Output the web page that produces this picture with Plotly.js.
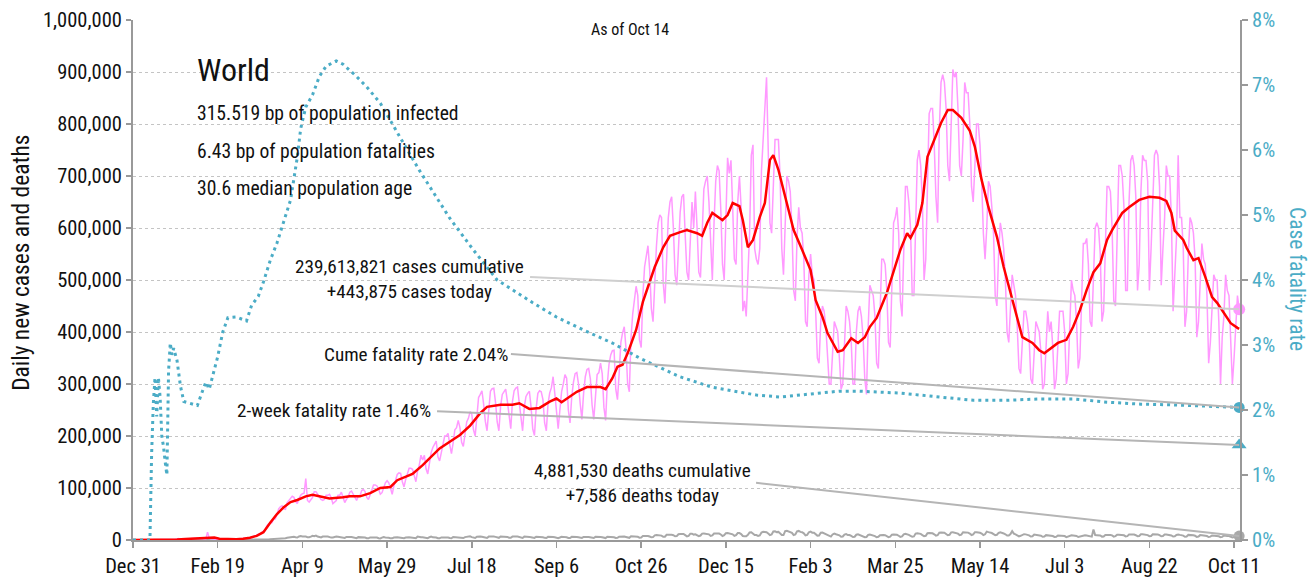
<!DOCTYPE html>
<html><head><meta charset="utf-8">
<script src="https://cdn.plot.ly/plotly-3.0.1.min.js"></script>
<style>html,body{margin:0;padding:0;background:#fff}</style>
</head><body><div id="chart" style="width:1314px;height:579px"></div>
<script>
// ---------------- DATA ----------------
const startDate = '2019-12-31';            // day 0
const xTickDates = ['2019-12-31','2020-02-19','2020-04-09','2020-05-29','2020-07-18','2020-09-06','2020-10-26','2020-12-15','2021-02-03','2021-03-25','2021-05-14','2021-07-03','2021-08-22','2021-10-11'];
const xTickLabels = ['Dec 31','Feb 19','Apr 9','May 29','Jul 18','Sep 6','Oct 26','Dec 15','Feb 3','Mar 25','May 14','Jul 3','Aug 22','Oct 11'];

// daily new cases, thousands, one value per day from startDate
const dailyCasesK = [
0,0,0,0,0,0,0, 0,0,0,0,0,0,0, 0,0,0,0,0.1,0.1,0.1, 0.2,0.3,0.6,0.8,1.3,2.0,2.7,
1.5,1.7,2.0,2.1,2.6,2.8,3.2, 3.9,3.7,3.2,3.4,2.7,3.0,2.5, 2.0,1.8,15.1,4.0,2.6,2.0,2.1, 1.9,0.6,0.6,1.0,1.0,1.1,0.6,
0.9,0.8,1.1,1.4,1.8,1.8,2.0, 2.4,2.5,2.7,3.2,4.0,3.9,4.0, 4.6,7.0,7.5,10.0,11.0,11.5,14.0, 15.5,19.8,27.0,31.0,32.0,33.5,40.0,
40.5,49.0,60.0,64.0,66.0,60.0,59.0, 72,77,80,84,82,74,70, 80,86,89,90,118,76,73, 78,82,93,93,88,82,78,
76,78,86,86,88,81,70, 74,76,86,86,92,81,72, 78,83,92,94,88,81,76, 84,85,95,97,93,82,78,
89,95,106,106,104,98,88, 91,101,110,114,110,100,88, 104,117,126,129,128,112,102, 117,130,138,138,136,124,112,
133,144,163,154,163,137,127, 151,168,178,183,190,160,152, 168,184,200,200,205,183,166, 187,212,216,230,216,188,180,
205,227,234,247,242,212,200, 238,274,280,287,261,228,210, 253,286,291,292,265,227,210, 257,280,284,290,267,236,214,
266,287,292,294,264,230,210, 256,276,282,286,255,213,201, 253,282,287,285,270,225,210, 262,283,293,314,282,245,214,
250,285,300,318,311,250,225, 275,303,320,322,300,262,232, 282,314,328,330,310,260,232, 270,318,322,340,320,255,230,
300,338,356,364,365,290,270, 320,380,398,410,370,300,285, 389,435,460,488,470,385,370, 470,525,545,566,520,445,420,
500,565,610,625,620,495,455, 545,620,650,660,600,510,490, 575,630,660,665,585,515,500, 590,650,600,670,600,515,505,
580,675,690,700,650,555,500, 610,690,720,710,635,530,500, 640,735,705,730,640,540,530, 650,700,640,440,460,430,510,
590,740,760,560,540,530,560, 710,780,820,890,750,610,590, 700,770,770,770,700,560,510, 620,700,690,670,600,480,460,
580,640,600,590,540,420,410, 510,550,510,500,440,350,340, 420,450,440,410,360,300,300, 370,420,410,400,350,290,300,
390,450,440,420,380,300,300, 400,440,450,430,390,310,280, 410,490,480,470,430,340,330, 440,540,540,530,480,380,370,
490,610,620,640,590,460,430, 560,680,680,650,600,470,470, 580,730,750,720,650,500,540, 690,820,830,830,760,660,610,
790,880,895,880,830,720,690, 800,905,890,900,830,720,700, 770,880,860,860,800,680,650, 720,800,800,760,690,590,540,
600,690,680,640,590,470,450, 550,610,590,560,500,400,380, 460,510,490,470,410,330,320, 390,440,440,420,390,310,300,
370,420,410,400,360,290,300, 370,440,400,420,370,290,310, 380,440,440,440,400,300,320, 420,500,480,470,420,330,350,
470,570,570,580,530,420,410, 500,600,610,600,550,420,440, 560,680,680,670,600,460,450, 620,720,720,700,640,480,480,
650,730,740,720,660,480,530, 670,740,730,730,690,480,560, 660,740,750,740,680,490,560, 620,720,700,700,620,440,500,
580,740,620,620,560,410,440, 550,620,610,590,540,390,420, 500,570,540,530,470,340,380, 460,510,500,500,420,300,390,
430,510,480,470,400,300,350, 410,470,443.875
];

// 7-day average of new cases (thousands), read at these day offsets
const avgCasesDays = [0,10,18,22,26,31,36,41,44,48,51,56,61,65,69,73,77,81,85,89,93,97,102,106,110,116,124,128,134,140,146,152,156,161,165,171,177,181,187,193,199,205,209,217,224,228,234,240,246,250,253,258,262,268,276,279,283,286,289,292,297,301,305,308,313,317,323,327,333,336,339,342,348,351,354,358,360,363,366,370,373,376,378,381,384,390,395,400,403,407,410,416,419,424,428,432,435,439,445,450,453,457,459,463,466,469,473,477,481,484,489,494,497,501,505,510,514,519,525,531,535,538,542,546,551,555,559,563,567,571,575,578,584,588,594,600,606,610,613,615,620,622,626,629,633,637,640,644,648,652,653];
const avgCasesK = [0,0,0.1,0.3,1.0,1.8,2.9,2.8,4.8,4.9,2.4,1.3,1.6,2.6,4.5,8,15,33,50,63,73,77,84,87,84,80,82,84,84,90,100,102,115,122,127,144,163,176,189,202,220,244,256,260,260,263,252,254,266,272,265,277,285,294,294,290,311,333,337,359,404,458,494,525,563,585,592,596,590,585,610,629,615,625,648,642,615,563,577,621,648,731,740,712,673,596,558,519,461,429,398,362,365,388,379,390,410,427,475,525,558,590,581,606,648,737,769,802,827,827,812,787,756,692,640,583,525,461,390,379,365,359,369,379,385,410,442,481,515,532,577,596,629,640,654,660,658,652,629,595,577,562,538,542,506,467,456,437,417,408,406];

// daily new deaths, thousands, one value per day from startDate
const dailyDeathsK = [
0,0,0,0,0,0,0, 0,0,0,0,0,0,0, 0,0,0,0,0,0,0, 0,0,0,0,0,0,0, 0,0,0,0,0,0,0,
0.1,0.1,0.1,0.1,0.1,0.1,0.1, 0.1,0.1,0.1,0.1,0.1,0.1,0.1, 0.1,0.1,0.1,0.1,0.1,0.1,0.1, 0.1,0.1,0.1,0.1,0.1,0.1,0.1,
0.1,0.1,0.1,0.1,0.1,0.2,0.2, 0.3,0.3,0.4,0.4,0.4,0.6,0.6, 0.8,0.9,1.0,1.1,1.6,1.7,1.8, 2.2,2.5,2.8,3.3,3.5,3.5,3.4,
4.3,4.9,5.1,6.0,6.2,5.3,4.8, 6.8,7.7,6.7,7.2,6.5,5.5,5.3, 6.6,8.2,7.2,8.5,6.6,5.9,4.8, 6.6,7.2,6.5,6.7,5.3,4.6,4.7,
6.2,6.5,6.2,5.4,5.3,3.9,4.0, 5.9,6.4,5.8,5.6,4.8,3.9,3.6, 5.5,5.5,5.3,5.1,4.7,3.4,3.2, 4.9,5.1,5.4,5.3,4.7,3.3,3.0,
4.6,5.6,5.0,5.3,4.4,3.2,3.2, 4.7,5.4,5.3,5.0,4.4,3.4,3.4, 4.7,5.3,5.1,5.0,4.3,3.4,3.3, 6.6,5.2,5.2,5.1,4.5,3.5,3.5,
5.3,6.6,5.1,5.2,4.7,3.4,3.3, 4.9,5.2,5.3,5.3,4.8,3.8,3.4, 5.9,5.5,5.7,5.5,5.2,4.0,3.8, 5.6,5.9,5.9,7.0,5.6,4.3,3.8,
6.3,7.1,6.5,6.4,5.6,4.3,4.0, 6.5,6.8,6.8,6.5,6.0,4.4,4.2, 6.8,6.9,6.8,6.5,6.0,4.5,4.3, 6.6,7.1,6.5,6.5,5.8,4.4,4.0,
6.5,6.7,6.3,6.0,5.4,4.1,4.0, 6.3,6.4,6.0,5.7,5.3,4.1,3.9, 6.1,6.4,6.0,5.6,5.2,4.0,3.5, 4.8,6.2,6.0,5.9,5.3,4.0,3.8,
6.0,6.4,6.2,5.8,5.3,4.1,3.9, 5.9,6.5,6.0,5.8,5.3,4.1,3.8, 6.1,6.4,6.1,5.8,5.3,4.0,3.7, 6.2,6.3,6.4,6.1,5.3,4.0,4.1,
6.3,6.6,6.2,6.5,5.7,4.2,4.2, 7.0,6.8,6.7,6.5,6.1,4.5,4.8, 7.5,7.9,7.6,7.8,6.7,5.2,5.6, 9.0,9.6,9.3,9.3,8.4,6.1,6.4,
9.9,10.2,10.4,10.0,9.2,7.1,7.4, 11.0,11.4,11.4,11.6,9.3,7.0,8.0, 12.1,12.2,10.4,10.9,9.0,7.4,8.6, 12.3,12.6,12.3,12.3,10.8,7.8,8.7,
12.5,12.7,12.5,12.4,10.6,7.6,9.3, 13.2,13.4,12.6,12.6,10.9,7.9,9.4, 13.4,13.4,11.5,7.7,7.0,7.2,9.8, 14.6,15.0,12.1,9.5,9.4,8.0,8.8,
14.5,15.9,15.1,14.8,12.4,9.4,10.6, 16.3,16.7,15.2,15.6,13.3,9.5,9.5, 17.1,17.7,16.1,15.8,13.8,9.6,10.6, 16.8,17.5,15.6,15.0,12.9,9.0,9.8,
14.8,16.2,14.1,13.8,11.5,8.4,8.6, 14.0,14.2,12.6,12.0,10.0,7.3,6.6, 10.7,12.4,11.0,10.3,9.0,6.3,6.8, 10.5,11.5,9.6,9.5,7.8,5.7,6.3,
10.1,10.8,9.4,9.2,7.5,5.3,5.8, 9.9,10.4,9.2,9.3,7.5,5.3,6.1, 9.2,9.9,9.5,9.3,7.7,5.6,6.5, 10.2,10.4,10.1,10.0,8.2,6.1,6.8,
11.0,12.1,11.3,9.9,8.1,6.4,6.9, 12.4,13.1,12.5,11.8,9.5,7.4,8.0, 13.2,13.4,13.3,12.9,10.9,8.4,9.2, 13.9,14.2,14.3,14.0,11.6,9.2,10.0,
14.7,15.0,14.5,14.1,12.2,9.5,10.4, 15.0,15.2,14.7,14.2,12.4,9.6,10.9, 15.0,15.0,14.6,13.9,12.3,9.4,10.9, 16.2,15.1,14.6,13.4,11.4,9.3,10.1,
13.6,14.6,13.9,12.6,11.0,8.5,8.7, 11.4,17.0,12.2,10.9,9.2,7.0,8.1, 10.0,11.2,10.8,10.3,9.0,6.8,7.2, 10.5,10.2,9.8,9.8,8.2,6.2,6.6,
9.3,9.1,8.7,8.8,7.7,5.9,6.3, 8.6,8.4,8.3,8.4,7.6,5.5,6.5, 8.7,8.9,8.5,8.6,7.8,5.8,6.5, 8.5,8.8,9.0,8.8,8.0,6.0,6.5,
20.0,9.4,9.2,9.5,8.6,6.5,6.8, 9.7,10.1,10.0,9.7,8.9,6.6,7.4, 10.0,10.3,10.0,10.0,9.0,6.9,7.4, 10.5,10.9,10.2,10.4,9.2,7.3,7.8,
11.0,11.2,10.6,10.6,9.4,7.3,7.8, 11.0,11.2,10.6,10.4,9.3,7.1,7.7, 10.5,10.6,10.2,9.9,8.8,6.7,7.2, 9.7,10.7,9.8,9.3,8.4,6.2,6.7,
9.8,9.8,9.3,9.1,8.1,6.1,6.7, 9.4,9.3,9.0,8.6,7.6,5.7,6.4, 8.8,8.6,8.4,8.1,7.1,5.3,6.0, 8.5,8.8,7.9,7.6,6.7,4.9,5.8,
7.9,8.0,7.586
];

// cumulative case fatality rate (%), read at these day offsets
const cfrDays = [0,10,11,12,13,14,15,16,17,18,19,20,21,22,23,24,26,28,30,34,38,41,43,45,47,50,53,56,61,67,70,74,77,81,85,89,93,97,99,102,106,110,114,120,124,132,138,146,154,162,169,178,187,201,215,236,250,266,283,299,311,323,342,368,382,394,417,429,453,476,496,516,535,555,575,595,612,653];
const cfrPct = [0,0,1.33,2.1,2.5,1.9,2.5,2.2,1.6,1.44,1.2,1.0,2.6,3.03,2.85,2.95,2.76,2.37,2.13,2.1,2.07,2.29,2.43,2.32,2.54,2.82,3.2,3.42,3.43,3.37,3.61,3.75,3.97,4.3,4.57,4.9,5.23,5.89,6.33,6.66,6.85,7.13,7.29,7.37,7.32,7.13,6.97,6.72,6.35,6.0,5.69,5.31,4.95,4.46,4.0,3.65,3.43,3.23,3.03,2.8,2.65,2.51,2.35,2.23,2.2,2.23,2.29,2.29,2.26,2.2,2.15,2.15,2.17,2.17,2.12,2.09,2.08,2.04];

// headline numbers
const casesCumulative = 239613821;
const casesToday = 443875;
const deathsCumulative = 4881530;
const deathsToday = 7586;
const cumeFatalityPct = 2.04;
const twoWeekFatalityPct = 1.46;
const bpInfected = '315.519';
const bpFatalities = '6.43';
const medianAge = '30.6';
const lastDay = 653;

// ---------------- BUILD ----------------
const DAY = 86400000;
const T0 = Date.parse(startDate + 'T00:00:00Z');
const dstr = d => new Date(T0 + d * DAY).toISOString().replace('T', ' ').slice(0, 19);
const fmt = n => n.toLocaleString('en-US');

const FONT = '"Roboto Condensed", "DejaVu Sans Condensed", sans-serif';
const TEAL = '#4bacc6', PINK = '#ff99ff', RED = '#ff0000', GRAY = '#a8a8a8';

const dailyX = dailyCasesK.map((_, i) => dstr(i));
const lastX = dstr(lastDay);

const traces = [
  {x: dailyX, y: dailyDeathsK.map(v => v * 1000), type: 'scatter', mode: 'lines',
   line: {color: GRAY, width: 2}, hoverinfo: 'skip'},
  {x: dailyX, y: dailyCasesK.map(v => v * 1000), type: 'scatter', mode: 'lines',
   line: {color: PINK, width: 1.5}, hoverinfo: 'skip'},
  {x: avgCasesDays.map(dstr), y: avgCasesK.map(v => v * 1000), type: 'scatter', mode: 'lines',
   line: {color: RED, width: 2.5}, hoverinfo: 'skip'},
  {x: cfrDays.map(dstr), y: cfrPct.map(v => v / 100), yaxis: 'y2', type: 'scatter', mode: 'lines',
   line: {color: TEAL, width: 3, dash: '3px,4px'}, hoverinfo: 'skip'},
  {x: [lastX], y: [casesToday], type: 'scatter', mode: 'markers', cliponaxis: false,
   marker: {color: PINK, size: 12, symbol: 'circle'}},
  {x: [lastX], y: [deathsToday], type: 'scatter', mode: 'markers', cliponaxis: false,
   marker: {color: GRAY, size: 11, symbol: 'circle'}},
  {x: [lastX], y: [cumeFatalityPct / 100], yaxis: 'y2', type: 'scatter', mode: 'markers', cliponaxis: false,
   marker: {color: TEAL, size: 11, symbol: 'circle'}},
  {x: [lastX], y: [twoWeekFatalityPct / 100], yaxis: 'y2', type: 'scatter', mode: 'markers', cliponaxis: false,
   marker: {color: TEAL, size: 13, symbol: 'triangle-up'}}
];

// connector lines from the labels to today's values
const shapes = [
  {type: 'line', xref: 'x', yref: 'y', x0: dstr(234.4), y0: 506000, x1: lastX, y1: casesToday,
   line: {color: '#cfcfcf', width: 2}},
  {type: 'line', xref: 'x', yref: 'y2', x0: dstr(223.1), y0: 0.0286, x1: lastX, y1: cumeFatalityPct / 100,
   line: {color: '#b5b5b5', width: 2}},
  {type: 'line', xref: 'x', yref: 'y2', x0: dstr(179.5), y0: 0.0198, x1: lastX, y1: twoWeekFatalityPct / 100,
   line: {color: '#b5b5b5', width: 2}},
  {type: 'line', xref: 'x', yref: 'y', x0: dstr(367.8), y0: 110000, x1: lastX, y1: deathsToday,
   line: {color: '#b5b5b5', width: 2}}
];

const txt = (text, x, y, size, extra) => Object.assign({
  text, x, y, xref: 'paper', yref: 'paper', showarrow: false,
  xanchor: 'center', yanchor: 'middle', font: {family: FONT, size, color: '#111'}
}, extra || {});

const annotations = [
  txt('As of Oct 14', 0.449, 0.981, 16),
  txt('World', 0.0558, 0.904, 32, {xanchor: 'left'}),
  txt(bpInfected + ' bp of population infected', 0.0558, 0.821, 19.6, {xanchor: 'left'}),
  txt(bpFatalities + ' bp of population fatalities', 0.0558, 0.748, 19.6, {xanchor: 'left'}),
  txt(medianAge + ' median population age', 0.0558, 0.675, 19.6, {xanchor: 'left'}),
  txt(fmt(casesCumulative) + ' cases cumulative<br>+' + fmt(casesToday) + ' cases today', 0.2502, 0.502, 19.2),
  txt('Cume fatality rate ' + cumeFatalityPct.toFixed(2) + '%', 0.2552, 0.3558, 19.2),
  txt('2-week fatality rate ' + twoWeekFatalityPct.toFixed(2) + '%', 0.182, 0.25, 19.2),
  txt(fmt(deathsCumulative) + ' deaths cumulative<br>+' + fmt(deathsToday) + ' deaths today', 0.4603, 0.1087, 19.2),
  txt('Daily new cases and deaths', -0.1012, 0.533, 23.5, {textangle: -90}),
  txt('Case fatality rate', 1.0515, 0.502, 21.5, {textangle: 90, font: {family: FONT, size: 21.5, color: TEAL}})
];

const layout = {
  width: 1314, height: 579,
  margin: {l: 133, r: 74, t: 20, b: 39, pad: 0},
  paper_bgcolor: '#fff', plot_bgcolor: '#fff',
  showlegend: false,
  font: {family: FONT, size: 20, color: '#111'},
  xaxis: {
    type: 'date', range: [dstr(0), dstr(653.5)],
    tickvals: xTickDates, ticktext: xTickLabels,
    ticks: 'outside', ticklen: 6, tickwidth: 1.5, tickcolor: '#999',
    showline: true, linecolor: '#999', linewidth: 2,
    showgrid: false, zeroline: false,
    tickfont: {family: FONT, size: 20.5, color: '#111'}
  },
  yaxis: {
    range: [0, 1000000], dtick: 100000, tick0: 0, tickformat: ',',
    ticks: 'outside', ticklen: 5, tickwidth: 1.5, tickcolor: '#999',
    showline: true, linecolor: '#999', linewidth: 2,
    showgrid: true, gridcolor: '#c4c4c4', gridwidth: 1, griddash: 'dot',
    zeroline: false,
    tickfont: {family: FONT, size: 20.5, color: '#111'}
  },
  yaxis2: {
    overlaying: 'y', side: 'right', range: [0, 0.08], dtick: 0.01, tick0: 0, tickformat: '.0%',
    ticks: 'outside', ticklen: 6, tickwidth: 1.5, tickcolor: '#999',
    showline: true, linecolor: '#999', linewidth: 2,
    showgrid: false, zeroline: false,
    tickfont: {family: FONT, size: 20.5, color: TEAL}
  },
  shapes, annotations
};

Plotly.newPlot('chart', traces, layout, {staticPlot: true, displayModeBar: false});
</script></body></html>
